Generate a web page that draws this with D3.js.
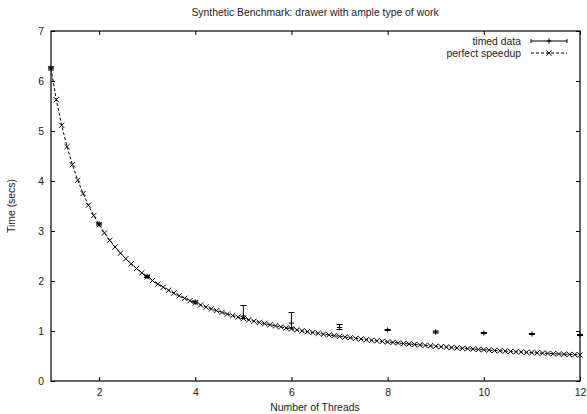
<!DOCTYPE html>
<html>
<head>
<meta charset="utf-8">
<script src="https://cdn.jsdelivr.net/npm/d3@7"></script>
<style>
  body { margin: 0; background: #fff; }
  svg { display: block; font-family: "Liberation Sans", Arial, sans-serif; }
</style>
</head>
<body>
<svg id="chart" width="587" height="414"></svg>
<script>
// Timed data (one run per thread count, with min/max error bars)
const threads = [1, 2, 3, 4, 5, 6, 7, 8, 9, 10, 11, 12];
const timedMean = [6.26, 3.14, 2.09, 1.58, 1.30, 1.16, 1.07, 1.02, 0.98, 0.96, 0.94, 0.92];
const timedLow = [6.24, 3.12, 2.07, 1.56, 1.25, 1.06, 1.03, 1.01, 0.96, 0.95, 0.93, 0.91];
const timedHigh = [6.28, 3.16, 2.11, 1.60, 1.51, 1.37, 1.13, 1.03, 1.00, 0.97, 0.95, 0.93];

// Perfect speedup curve, sampled the way gnuplot does (100 samples over 1..12)
const speedupX = [
  1, 1.111, 1.222, 1.333, 1.444, 1.556, 1.667, 1.778, 1.889,
  2, 2.111, 2.222, 2.333, 2.444, 2.556, 2.667, 2.778, 2.889,
  3, 3.111, 3.222, 3.333, 3.444, 3.556, 3.667, 3.778, 3.889,
  4, 4.111, 4.222, 4.333, 4.444, 4.556, 4.667, 4.778, 4.889,
  5, 5.111, 5.222, 5.333, 5.444, 5.556, 5.667, 5.778, 5.889,
  6, 6.111, 6.222, 6.333, 6.444, 6.556, 6.667, 6.778, 6.889,
  7, 7.111, 7.222, 7.333, 7.444, 7.556, 7.667, 7.778, 7.889,
  8, 8.111, 8.222, 8.333, 8.444, 8.556, 8.667, 8.778, 8.889,
  9, 9.111, 9.222, 9.333, 9.444, 9.556, 9.667, 9.778, 9.889,
  10, 10.111, 10.222, 10.333, 10.444, 10.556, 10.667, 10.778, 10.889,
  11, 11.111, 11.222, 11.333, 11.444, 11.556, 11.667, 11.778, 11.889,
  12
];
const speedupY = [
  6.25, 5.625, 5.114, 4.688, 4.327, 4.018, 3.75, 3.516, 3.309,
  3.125, 2.961, 2.813, 2.679, 2.557, 2.446, 2.344, 2.25, 2.163,
  2.083, 2.009, 1.940, 1.875, 1.815, 1.758, 1.705, 1.654, 1.607,
  1.563, 1.520, 1.480, 1.442, 1.406, 1.372, 1.339, 1.308, 1.278,
  1.25, 1.223, 1.197, 1.172, 1.148, 1.125, 1.103, 1.082, 1.061,
  1.042, 1.023, 1.004, 0.987, 0.970, 0.953, 0.938, 0.922, 0.907,
  0.893, 0.879, 0.865, 0.852, 0.840, 0.827, 0.815, 0.804, 0.792,
  0.781, 0.771, 0.760, 0.75, 0.740, 0.731, 0.721, 0.712, 0.703,
  0.694, 0.686, 0.678, 0.670, 0.662, 0.654, 0.647, 0.639, 0.632,
  0.625, 0.618, 0.611, 0.605, 0.598, 0.592, 0.586, 0.580, 0.574,
  0.568, 0.563, 0.557, 0.551, 0.546, 0.541, 0.536, 0.531, 0.526,
  0.521
];

const xTicks = [2, 4, 6, 8, 10, 12];
const yTicks = [0, 1, 2, 3, 4, 5, 6, 7];

const TITLE = "Synthetic Benchmark: drawer with ample type of work";
const X_LABEL = "Number of Threads";
const Y_LABEL = "Time (secs)";

// plot frame in pixels
const LEFT = 51, RIGHT = 580, TOP = 31, BOTTOM = 381;
const TICK = 4; // tick length (gnuplot draws them inward, mirrored)
const M = 2.6;  // half size of point markers
const FONT = 10.4;

const svg = d3.select("#chart");

const x = d3.scaleLinear().domain([1, 12]).range([LEFT, RIGHT]);
const y = d3.scaleLinear().domain([0, 7]).range([BOTTOM, TOP]);

// ticks, drawn with d3 axes then mirrored on the opposite side
const xAxis = d3.axisBottom(x).tickValues(xTicks).tickSize(-TICK).tickPadding(8).tickFormat(d3.format("d"));
const yAxis = d3.axisLeft(y).tickValues(yTicks).tickSize(-TICK).tickPadding(8).tickFormat(d3.format("d"));

const gx = svg.append("g").attr("transform", `translate(0,${BOTTOM})`).call(xAxis);
const gy = svg.append("g").attr("transform", `translate(${LEFT},0)`).call(yAxis);
const gxTop = svg.append("g").attr("transform", `translate(0,${TOP})`)
  .call(d3.axisTop(x).tickValues(xTicks).tickSize(-TICK).tickFormat(""));
const gyRight = svg.append("g").attr("transform", `translate(${RIGHT},0)`)
  .call(d3.axisRight(y).tickValues(yTicks).tickSize(-TICK).tickFormat(""));

[gx, gy, gxTop, gyRight].forEach((g) => {
  g.select(".domain").remove();
  g.selectAll("line").attr("stroke", "#000");
  g.selectAll("text").attr("font-size", FONT).attr("fill", "#222")
    .attr("font-family", "Liberation Sans, Arial, sans-serif");
});
gy.selectAll("text").attr("dx", "1px");

// frame
svg.append("rect")
  .attr("x", LEFT).attr("y", TOP)
  .attr("width", RIGHT - LEFT).attr("height", BOTTOM - TOP)
  .attr("fill", "none").attr("stroke", "#000").attr("stroke-width", 1.2);

// titles
svg.append("text").attr("x", 315).attr("y", 16).attr("text-anchor", "middle")
  .attr("font-size", FONT).attr("fill", "#222").text(TITLE);
svg.append("text").attr("x", 315).attr("y", 411).attr("text-anchor", "middle")
  .attr("font-size", FONT).attr("fill", "#222").text(X_LABEL);
svg.append("text").attr("transform", "translate(15,206) rotate(-90)")
  .attr("text-anchor", "middle").attr("font-size", FONT).attr("fill", "#222").text(Y_LABEL);

// marker helpers
const crossPath = (cx, cy) =>
  `M${cx - M},${cy - M}L${cx + M},${cy + M}M${cx - M},${cy + M}L${cx + M},${cy - M}`;
const plusPath = (cx, cy) =>
  `M${cx - M},${cy}L${cx + M},${cy}M${cx},${cy - M}L${cx},${cy + M}`;

// perfect speedup: dashed line plus x markers
const speedup = speedupX.map((d, i) => [d, speedupY[i]]);
const line = d3.line().x((d) => x(d[0])).y((d) => y(d[1]));

svg.append("path").datum(speedup).attr("d", line)
  .attr("fill", "none").attr("stroke", "#000").attr("stroke-width", 1)
  .attr("stroke-dasharray", "3,2");

svg.append("g").selectAll("path").data(speedup).enter().append("path")
  .attr("d", (d) => crossPath(x(d[0]), y(d[1])))
  .attr("stroke", "#000").attr("stroke-width", 1).attr("fill", "none");

// timed data: error bars with caps and + markers
const timed = threads.map((t, i) => ({ t, mean: timedMean[i], lo: timedLow[i], hi: timedHigh[i] }));
const CAP = 3;
const eb = svg.append("g").selectAll("g").data(timed).enter().append("g")
  .attr("stroke", "#000").attr("stroke-width", 1).attr("fill", "none");
eb.append("path").attr("d", (d) => {
  const cx = x(d.t), y0 = y(d.lo), y1 = y(d.hi);
  return `M${cx},${y0}L${cx},${y1}M${cx - CAP},${y0}L${cx + CAP},${y0}M${cx - CAP},${y1}L${cx + CAP},${y1}`;
});
eb.append("path").attr("d", (d) => plusPath(x(d.t), y(d.mean)));

// legend
const legX0 = 531, legX1 = 567, legMid = (legX0 + legX1) / 2;
svg.append("text").attr("x", 521).attr("y", 45).attr("text-anchor", "end")
  .attr("font-size", FONT).attr("fill", "#222").text("timed data");
svg.append("path")
  .attr("d", `M${legX0},41L${legX1},41M${legX0},${41 - 2}L${legX0},${41 + 2}M${legX1},${41 - 2}L${legX1},${41 + 2}`)
  .attr("stroke", "#000").attr("stroke-width", 1);
svg.append("path").attr("d", plusPath(legMid, 41)).attr("stroke", "#000").attr("stroke-width", 1);

svg.append("text").attr("x", 521).attr("y", 57).attr("text-anchor", "end")
  .attr("font-size", FONT).attr("fill", "#222").text("perfect speedup");
svg.append("path").attr("d", `M${legX0},53L${legX1},53`)
  .attr("stroke", "#000").attr("stroke-width", 1).attr("stroke-dasharray", "3,2");
svg.append("path").attr("d", crossPath(legMid, 53)).attr("stroke", "#000").attr("stroke-width", 1);
</script>
</body>
</html>
